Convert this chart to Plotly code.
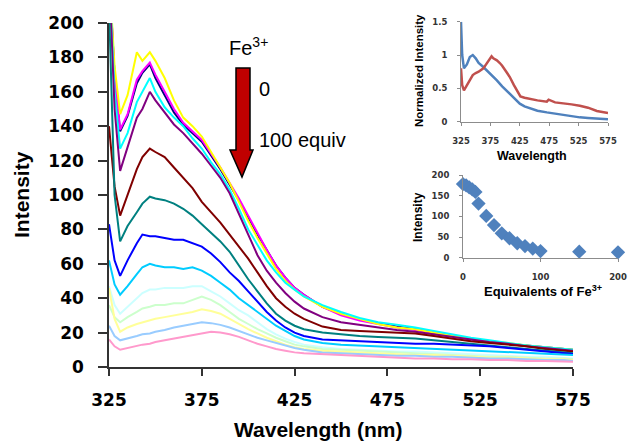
import plotly.graph_objects as go

# ---------------- data ----------------
wavelength = [325, 328, 331, 335, 340, 343, 347, 350, 355, 360, 365, 370, 375, 380, 385, 390, 395, 400,
              405, 410, 415, 420, 425, 430, 440, 450, 460, 470, 480, 490, 500, 510, 520, 530, 540, 550,
              560, 570, 575]

s_navy = [230, 170, 137, 146, 165, 171, 176, 168, 158, 148, 141, 136, 131, 123, 115, 106, 97, 87, 77, 68,
          59, 52, 46, 42, 35, 31, 28, 25.5, 23.5, 22, 20, 18, 16.5, 15, 13.5, 12.5, 11.5, 10.5, 10]
s_magenta = [230, 170, 138, 147, 167, 172, 177, 170, 160, 150, 142, 137, 132, 124, 116, 107, 98, 88, 78, 68,
             59, 52, 46, 42, 35, 30, 27, 25, 23, 21.5, 20, 18, 16, 14.5, 13.5, 12, 11, 10, 9.5]
s_yellow = [230, 175, 147, 158, 183, 178, 183, 178, 168, 155, 145, 140, 134, 125, 116, 107, 96, 85, 75, 66,
            57, 50, 45, 41, 35, 31, 28, 25, 23, 22, 20, 18, 16.5, 15, 14, 12.5, 11.5, 10.5, 10]
s_cyan = [230, 160, 127, 136, 154, 160, 168, 160, 151, 145, 140, 133, 127, 119, 112, 103, 92, 80, 71, 62,
          55, 49, 45, 41, 36, 32, 28.5, 26, 24.5, 23, 21, 19, 17, 15.5, 14, 12.5, 11.5, 10.5, 10]
s_violet = [230, 150, 114, 128, 145, 150, 160, 155, 148, 141, 136, 130, 124, 117, 110, 101, 89, 76, 65, 56,
            49, 43, 38, 34, 29, 26, 24.5, 23, 21.5, 20.5, 19, 17.5, 16, 14.5, 13.5, 12, 11, 10, 9.5]
s_darkred = [140, 105, 88, 100, 115, 122, 127, 125, 122, 116, 110, 104, 96, 90, 84, 77, 70, 63, 55, 47,
             40, 35, 31, 28, 23.5, 21.5, 21, 20.5, 20, 19.5, 18, 16.5, 15, 14, 13, 12, 10.5, 9.5, 9]
s_teal = [210, 100, 73, 82, 90, 95, 99, 98, 97, 95, 92, 88, 83, 78, 73, 67, 59, 51, 44, 37,
          31, 27, 24, 22, 20, 19, 18, 17.5, 17, 16.5, 15.5, 14.5, 13.5, 12.5, 11.5, 10.5, 9.5, 8.5, 8]
s_blue = [83, 62, 53, 62, 72, 77, 76, 76, 75, 74, 74, 72, 70, 66, 61, 55, 50, 44, 38, 32,
          27, 23, 20, 18, 16, 15.5, 15, 14.5, 14, 13.5, 13.5, 13, 12.5, 12, 11, 10, 9, 8, 7.5]
s_skyblue = [62, 48, 42, 47, 54, 58, 60, 59, 58, 58, 57, 58, 56, 53, 49, 45, 40, 36, 32, 28,
             24, 21, 18, 16, 14, 13, 12.5, 12, 11.5, 11, 10.5, 10, 9.5, 9, 8.5, 8, 7.5, 7, 7]
s_lightturq = [47, 36, 31, 35, 40, 43, 45, 45, 46, 46, 46, 47, 47, 44, 41, 37, 33, 30, 26, 22,
               19, 16.5, 14.5, 13, 11.5, 10.5, 10, 9.5, 9, 9, 8.5, 8, 7.5, 7, 6.5, 6, 6, 5.5, 5]
s_lightgreen = [36, 29, 26, 29, 32, 34, 35, 36, 36, 37, 37, 39, 41, 39, 36, 32, 28, 25, 22, 19.5,
                17, 15, 13, 12, 10.5, 10, 9.5, 9, 8.5, 8, 7.5, 7, 6.5, 6, 6, 5.5, 5, 5, 4.5]
s_lightyellow = [46, 28, 20.5, 23, 25, 26, 27, 28, 29, 30, 31, 32, 33.5, 32.5, 31, 28, 25, 22, 19.5, 17,
                 15, 13, 11.5, 10.5, 9.5, 9, 8.5, 8, 7.5, 7, 7, 6.5, 6, 5.5, 5.5, 5, 4.5, 4.5, 4]
s_paleblue = [24, 18, 15.5, 16.5, 18, 19, 19.5, 20.5, 21.5, 23, 24, 25, 26, 25.5, 24.5, 23, 21, 19, 17, 15.5,
              14, 12.5, 11, 10, 8.5, 8, 7.5, 7, 6.5, 6.5, 6, 6, 5.5, 5, 5, 4.5, 4, 4, 3.5]
s_rose = [16, 12, 10, 11, 12.5, 13, 13.5, 14.5, 15.5, 16.5, 17.5, 18.5, 19.5, 20.5, 20, 19, 17.5, 15.5, 13.5, 12,
          10.5, 9.5, 8.5, 8, 7.5, 7, 6.5, 6, 5.5, 5, 5, 4.5, 4.5, 4, 4, 3.5, 3.5, 3, 3]

series = [s_navy, s_magenta, s_yellow, s_cyan, s_violet, s_darkred, s_teal, s_blue,
          s_skyblue, s_lightturq, s_lightgreen, s_lightyellow, s_paleblue, s_rose]
series_colors = ["#000080", "#FF00FF", "#FFFF00", "#00FFFF", "#800080", "#800000", "#008080", "#0000FF",
                 "#00CCFF", "#CCFFFF", "#CCFFCC", "#FFFF99", "#99CCFF", "#FF99CC"]

x_ticks = [325, 375, 425, 475, 525, 575]
y_ticks = [0, 20, 40, 60, 80, 100, 120, 140, 160, 180, 200]

# inset 1: normalized spectra
blue_wl = [325, 327, 330, 335, 340, 345, 350, 355, 363, 375, 386, 395, 408, 417, 425, 433, 442, 455, 471,
           485, 499, 513, 527, 541, 556, 575]
blue_norm = [1.5, 1.0, 0.8, 0.86, 0.97, 1.0, 0.95, 0.88, 0.82, 0.72, 0.62, 0.53, 0.42, 0.33, 0.27, 0.23,
             0.2, 0.165, 0.14, 0.12, 0.1, 0.08, 0.065, 0.055, 0.045, 0.035]
red_wl = [325, 327, 330, 335, 340, 345, 350, 355, 363, 370, 377, 380, 386, 391, 395, 402, 408, 415, 422,
          426, 433, 442, 455, 471, 474, 485, 499, 513, 527, 541, 556, 575]
red_norm = [0.8, 0.55, 0.47, 0.55, 0.63, 0.7, 0.73, 0.75, 0.8, 0.9, 0.98, 0.95, 0.92, 0.88, 0.84, 0.75,
            0.67, 0.55, 0.44, 0.38, 0.36, 0.34, 0.32, 0.3, 0.33, 0.29, 0.28, 0.26, 0.24, 0.21, 0.16, 0.13]

# inset 2: intensity vs equivalents
equivalents = [0, 4, 8, 12, 16, 20, 30, 40, 50, 60, 70, 80, 90, 100, 150, 200]
eq_intensity = [178, 175, 170, 165, 159, 131, 101, 79, 59, 47, 35, 28, 22, 16, 14.5, 13]

# ---------------- figure ----------------
W, H = 628, 442
def px(x):
    return x / W
def py(y):
    return 1 - y / H

fig = go.Figure()
for s, c in zip(series, series_colors):
    fig.add_trace(go.Scatter(x=wavelength, y=s, mode="lines", line=dict(color=c, width=2),
                             xaxis="x", yaxis="y", showlegend=False, hoverinfo="skip"))

fig.add_trace(go.Scatter(x=blue_wl, y=blue_norm, mode="lines", line=dict(color="#4F81BD", width=2.5),
                         xaxis="x2", yaxis="y2", showlegend=False))
fig.add_trace(go.Scatter(x=red_wl, y=red_norm, mode="lines", line=dict(color="#C0504D", width=2.5),
                         xaxis="x2", yaxis="y2", showlegend=False))
fig.add_trace(go.Scatter(x=equivalents, y=eq_intensity, mode="markers",
                         marker=dict(symbol="diamond", size=11, color="#4F81BD"),
                         cliponaxis=False, xaxis="x3", yaxis="y3", showlegend=False))

tickfont_main = dict(family="DejaVu Sans", size=17, color="#000000", weight="bold")
tickfont_inset = dict(family="DejaVu Sans", size=8.5, color="#333333", weight="bold")

main_axis = dict(showgrid=False, zeroline=False, showline=True, linecolor="#333333", linewidth=1.5,
                 ticks="outside", tickcolor="#333333", tickwidth=1.5, automargin=False)
inset_axis = dict(showgrid=False, zeroline=False, showline=True, linecolor="#8C8C8C", linewidth=1,
                  ticks="outside", tickcolor="#8C8C8C", ticklen=3, tickwidth=1, automargin=False)

fig.update_layout(
    width=W, height=H, margin=dict(l=0, r=0, t=0, b=0, pad=0, autoexpand=False),
    paper_bgcolor="white", plot_bgcolor="rgba(0,0,0,0)",
    xaxis=dict(**main_axis, domain=[px(109), px(573)], range=[325, 575], tickvals=x_ticks,
               ticklen=7, tickfont=tickfont_main, ticklabelstandoff=10, anchor="y"),
    yaxis=dict(**main_axis, domain=[py(367), py(23)], range=[0, 200], tickvals=y_ticks,
               ticklen=9, tickfont=tickfont_main, ticklabelstandoff=11, anchor="x"),
    xaxis2=dict(**inset_axis, domain=[px(461), px(608)], range=[325, 575], tickvals=x_ticks,
                tickfont=tickfont_inset, ticklabelstandoff=8, anchor="y2"),
    yaxis2=dict(**inset_axis, domain=[py(121.7), py(21.7)], range=[0, 1.5], tickvals=[0, 0.5, 1, 1.5],
                tickfont=tickfont_inset, ticklabelstandoff=8, anchor="x2"),
    xaxis3=dict(**inset_axis, domain=[px(463), px(618)], range=[0, 200], tickvals=[0, 100, 200],
                tickfont=tickfont_inset, ticklabelstandoff=8, anchor="y3"),
    yaxis3=dict(**inset_axis, domain=[py(257.7), py(175)], range=[0, 200], tickvals=[0, 50, 100, 150, 200],
                tickfont=tickfont_inset, ticklabelstandoff=8, anchor="x3"),
)

arial = "Liberation Sans, Arial, sans-serif"
ann = []
def add_text(text, x, y, size, xanchor="center", angle=0, bold=True, color="#000000"):
    ann.append(dict(text=("<b>%s</b>" % text) if bold else text, x=px(x), y=py(y), xref="paper",
                    yref="paper", showarrow=False, xanchor=xanchor, yanchor="middle", textangle=angle,
                    font=dict(family=arial, size=size, color=color)))

add_text("Wavelength (nm)", 318, 429, 21)
add_text("Intensity", 21, 195, 21, angle=-90)
add_text("Fe<sup>3+</sup>", 227, 47, 20, xanchor="left", bold=False)
add_text("0", 257, 89, 20, xanchor="left", bold=False)
add_text("100 equiv", 257, 140, 20, xanchor="left", bold=False)
add_text("Normalized Intensity", 419, 71, 11.5, angle=-90)
add_text("Wavelength", 532, 156, 12.5)
add_text("Intensity", 418, 217, 12, angle=-90)
add_text("Equivalents of Fe<sup>3+</sup>", 543, 291, 13)
fig.update_layout(annotations=ann)

# red down arrow (decoration)
pts = [(236, 68), (250, 68), (250, 150), (253, 150), (242, 177), (230, 150), (236, 150)]
path = "M " + " L ".join("%.5f,%.5f" % (px(a), py(b)) for a, b in pts) + " Z"
fig.add_shape(type="path", path=path, xref="paper", yref="paper", fillcolor="#C00000",
              line=dict(color="#000000", width=1.5), layer="above")

fig.write_html("out.html")
